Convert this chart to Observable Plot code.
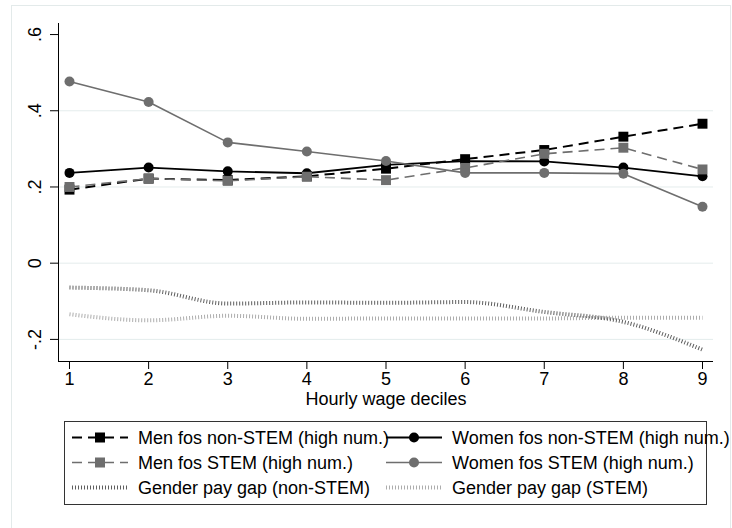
<!DOCTYPE html>
<html><head><meta charset="utf-8">
<script src="https://cdn.jsdelivr.net/npm/d3@7"></script>
<script src="https://cdn.jsdelivr.net/npm/@observablehq/plot@0.6"></script>
<style>
body{margin:0;background:#fff;}
#wrap{position:relative;width:732px;height:528px;overflow:hidden;font-family:"Liberation Sans",Arial,sans-serif;}
#frame{position:absolute;left:11px;top:5px;width:720px;height:560px;border:1px solid #e3eaea;box-sizing:border-box;}
#chart{position:absolute;left:0;top:0;}
#legend{position:absolute;left:0;top:0;}
</style></head><body>
<div id="wrap"><div id="frame"></div><div id="chart"></div><svg id="legend" width="732" height="528"></svg></div>
<script>
// ---- data ----
const deciles = [1, 2, 3, 4, 5, 6, 7, 8, 9];
const menNonStem   = [0.193, 0.222, 0.218, 0.228, 0.248, 0.273, 0.297, 0.332, 0.366];
const womenNonStem = [0.237, 0.251, 0.241, 0.236, 0.258, 0.268, 0.267, 0.251, 0.228];
const menStem      = [0.200, 0.222, 0.216, 0.227, 0.218, 0.250, 0.287, 0.303, 0.246];
const womenStem    = [0.477, 0.423, 0.317, 0.293, 0.268, 0.237, 0.237, 0.235, 0.148];
const gapNonStem   = [-0.064, -0.071, -0.106, -0.103, -0.104, -0.102, -0.128, -0.154, -0.227];
const gapStem      = [-0.134, -0.150, -0.138, -0.146, -0.145, -0.145, -0.145, -0.143, -0.143];
const seriesNames = [
  "Men fos non-STEM (high num.)",
  "Women fos non-STEM (high num.)",
  "Men fos STEM (high num.)",
  "Women fos STEM (high num.)",
  "Gender pay gap (non-STEM)",
  "Gender pay gap (STEM)"
];
const yTicks = [0.6, 0.4, 0.2, 0, -0.2];
const yTickLabels = [".6", ".4", ".2", "0", "-.2"];
const yGrid = [0.4, 0.2, 0, -0.2];
const xLabel = "Hourly wage deciles";

// ---- styles ----
const GRAY = "#6e6e6e";
const styles = [
  {stroke: "#000", width: 2, dash: "10 6", symbol: "square", r: 5.6},
  {stroke: "#000", width: 1.8, dash: null, symbol: "circle", r: 5},
  {stroke: GRAY, width: 1.6, dash: "10 6", symbol: "square", r: 5.6},
  {stroke: GRAY, width: 1.6, dash: null, symbol: "circle", r: 5},
  {stroke: "#5e5e5e", width: 4, dash: "1 2", symbol: null, curve: "monotone-x"},
  {stroke: "#adadad", width: 4, dash: "1 2", symbol: null, curve: "monotone-x"}
];
const seriesValues = [menNonStem, womenNonStem, menStem, womenStem, gapNonStem, gapStem];
const rows = seriesValues.map((vals) => deciles.map((d, i) => ({decile: d, value: vals[i]})));

const xDomain = [0.861, 9.139];
const yDomain = [-0.258, 0.629];
const FONT = "'Liberation Sans', Arial, sans-serif";

const marks = [Plot.ruleY(yGrid, {stroke: "#e4ecec", strokeWidth: 1})];
rows.forEach((data, k) => {
  const s = styles[k];
  marks.push(Plot.lineY(data, {x: "decile", y: "value", stroke: s.stroke, strokeWidth: s.width,
    strokeDasharray: s.dash || undefined, strokeLinecap: "butt", strokeLinejoin: "miter",
    curve: s.curve || "linear"}));
  if (s.symbol) marks.push(Plot.dot(data, {x: "decile", y: "value", symbol: s.symbol, r: s.r, fill: s.stroke, stroke: "none"}));
});
marks.push(
  Plot.axisX({ticks: deciles, tickSize: 8, tickPadding: 3, tickFormat: (d) => String(d), label: null}),
  Plot.axisY({ticks: yTicks, tickSize: 8, tickRotate: -90, tickPadding: 10,
    tickFormat: (d) => yTickLabels[yTicks.indexOf(d)], label: null}),
  Plot.ruleX([xDomain[0]], {stroke: "#000", strokeWidth: 1}),
  Plot.ruleY([yDomain[0]], {stroke: "#000", strokeWidth: 1}),
  Plot.text([xLabel], {text: (d) => d, frameAnchor: "bottom", lineAnchor: "top", dy: 31, fontSize: 18, fill: "#000"})
);

const chart = Plot.plot({
  width: 732, height: 420,
  marginLeft: 58, marginRight: 19, marginTop: 23, marginBottom: 59,
  style: {fontFamily: FONT, fontSize: "18px", background: "transparent", overflow: "visible", color: "#000"},
  x: {domain: xDomain},
  y: {domain: yDomain},
  marks
});
document.getElementById("chart").appendChild(chart);

// ---- legend ----
const lg = d3.select("#legend").style("font-family", FONT);
lg.append("rect").attr("x", 64.5).attr("y", 421.5).attr("width", 642).attr("height", 83)
  .attr("fill", "#fff").attr("stroke", "#333").attr("stroke-width", 1);
const colX = [72, 386];
const rowY = [437.5, 462.5, 487.5];
seriesNames.forEach((name, k) => {
  const s = styles[k];
  const cx = colX[k % 2], cy = rowY[Math.floor(k / 2)];
  const ln = lg.append("line").attr("x1", cx).attr("x2", cx + 56).attr("y1", cy).attr("y2", cy)
    .attr("stroke", s.stroke).attr("stroke-width", s.width);
  if (s.dash) ln.attr("stroke-dasharray", s.dash);
  if (s.symbol === "square") {
    lg.append("rect").attr("x", cx + 28 - 5).attr("y", cy - 5).attr("width", 10).attr("height", 10).attr("fill", s.stroke);
  } else if (s.symbol === "circle") {
    lg.append("circle").attr("cx", cx + 28).attr("cy", cy).attr("r", s.r).attr("fill", s.stroke);
  }
  lg.append("text").attr("x", cx + 66).attr("y", cy + 6.5).attr("font-size", 18).attr("fill", "#000").text(name);
});
</script>
</body></html>
